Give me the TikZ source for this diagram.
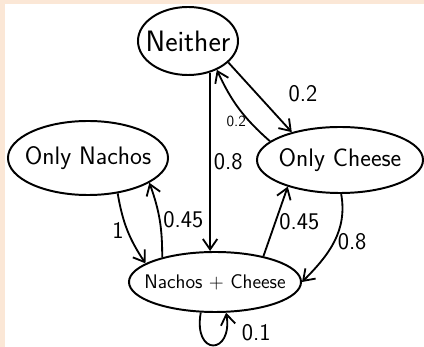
\documentclass[tikz,border=0pt]{standalone}
\usepackage{tikz}
\usetikzlibrary{arrows.meta,shapes.geometric}
\definecolor{pagebeige}{RGB}{251,231,214}

\begin{document}
\begin{tikzpicture}[x=0.025cm,y=-0.025cm,
  every node/.style={font=\sffamily},
  bub/.style={draw,ellipse,line width=1.4pt,inner sep=0pt},
  every label/.style={font=\sffamily\fontsize{18}{20}\selectfont},
  arr/.style={->,>={Straight Barb[length=2.6mm,width=3.6mm]},line width=1.3pt},
  lbl/.style={font=\sffamily\fontsize{17}{19}\selectfont,inner sep=2pt}
]
\fill[pagebeige] (0,0) rectangle (424,347);
\fill[white] (5,4) rectangle (424,347);
\useasboundingbox (0,0) rectangle (424,347);

% States
\node[bub,minimum width=2.5cm,minimum height=1.7cm,label={[font=\sffamily\fontsize{21}{23}\selectfont]center:Neither}] (nei) at (188,41) {};
\node[bub,minimum width=4cm,minimum height=1.85cm,label={center:Only Nachos}] (nachos) at (88,158) {};
\node[bub,minimum width=4.15cm,minimum height=1.65cm,label={center:Only Cheese}] (cheese) at (340,160) {};
\node[bub,minimum width=4.3cm,minimum height=1.5cm,label={[font=\sffamily\fontsize{14}{16}\selectfont]center:Nachos + Cheese}] (both) at (215,282) {};

% Transitions
\draw[arr] (nei.-55) -- (nei.-55 |- both.north) node[lbl,midway,right] {0.8};
\draw[arr] (nei.-28) -- (cheese.150) node[lbl,pos=0.45,right=20pt] {0.2};
\draw[arr] (cheese.165) to[bend left=12] node[lbl,pos=0.3,left,font=\sffamily\fontsize{11}{13}\selectfont] {0.2} (nei.-45);
\draw[arr] (nachos.-50) to[bend right=12] node[lbl,midway,left] {1} (both.165);
\draw[arr] (both.155) to[bend right=10] node[lbl,midway,right] {0.45} (nachos.-22);
\draw[arr] (both.28) -- (cheese.207) node[lbl,midway,right] {0.45};
\draw[arr] (cheese.-88) to[out=-80,in=45] node[lbl,midway,right] {0.8} (both.east);

% Self loop
\draw[arr] (both.-115) .. controls (193,357) and (233,355) .. (both.-70) node[lbl,pos=0.75,right=10pt,yshift=3pt] {0.1};
\end{tikzpicture}
\end{document}
